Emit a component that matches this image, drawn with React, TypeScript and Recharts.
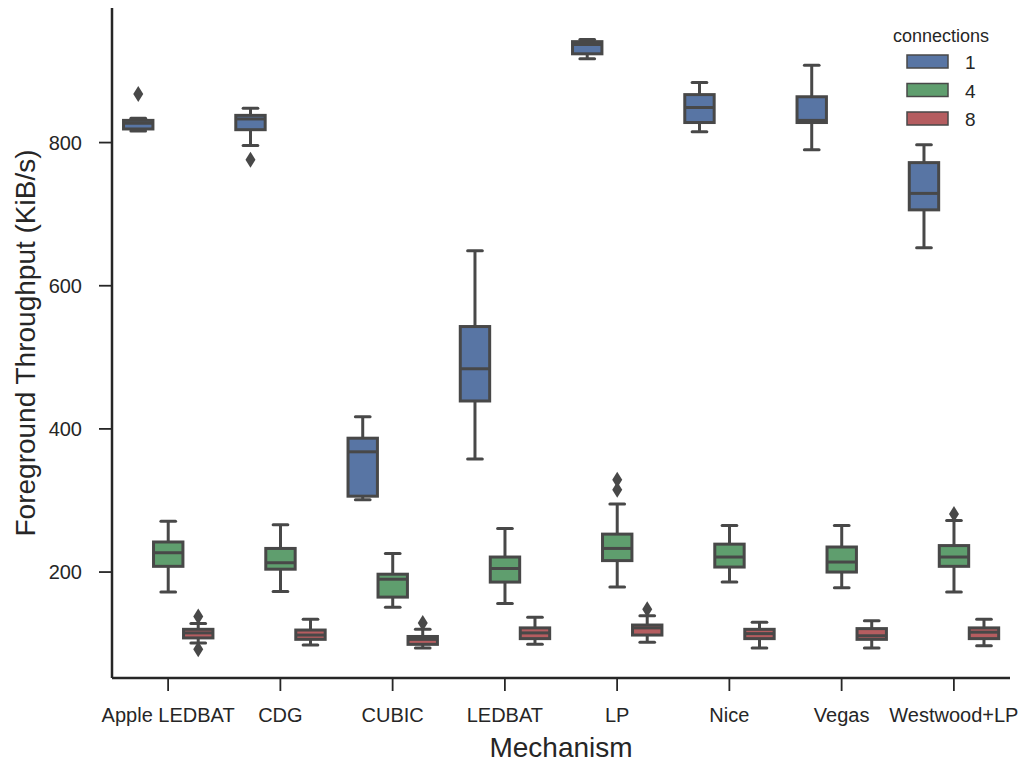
import React from "react";
import { ComposedChart, Bar, XAxis, YAxis, Legend } from "recharts";

const mechanisms = ["Apple LEDBAT", "CDG", "CUBIC", "LEDBAT", "LP", "Nice", "Vegas", "Westwood+LP"];
const connections = ["1", "4", "8"];
const yTicks = [200, 400, 600, 800];

// [low whisker, q1, median, q3, high whisker]
const stats1 = [
  [816, 819, 827, 831, 834],
  [796, 818, 833, 838, 848],
  [301, 306, 368, 387, 417],
  [358, 439, 484, 543, 649],
  [917, 924, 937, 941, 944],
  [815, 828, 849, 867, 884],
  [790, 828, 831, 864, 908],
  [653, 706, 729, 772, 797],
];
const stats4 = [
  [172, 208, 227, 242, 271],
  [173, 204, 213, 233, 266],
  [151, 165, 190, 197, 226],
  [156, 186, 205, 221, 261],
  [179, 216, 233, 253, 295],
  [186, 207, 221, 239, 265],
  [178, 200, 214, 235, 265],
  [172, 208, 221, 237, 272],
];
const stats8 = [
  [101, 108, 115, 120, 128],
  [98, 106, 112, 119, 134],
  [94, 99, 106, 110, 120],
  [99, 107, 115, 122, 137],
  [102, 112, 122, 126, 139],
  [94, 107, 114, 120, 130],
  [94, 106, 111, 121, 132],
  [97, 107, 116, 122, 134],
];

const outliers1 = [[868], [776], [], [], [], [], [], []];
const outliers4 = [[], [], [], [], [329, 315], [], [], [281]];
const outliers8 = [[138, 92], [], [129], [], [148], [], [], []];

const colors = ["#5875a4", "#5f9e6e", "#b55d60"];
const edge = "#484848";
const ink = "#262626";
const font = "'Liberation Sans', Arial, sans-serif";

const allStats = [stats1, stats4, stats8];
const allOutliers = [outliers1, outliers4, outliers8];

const data = mechanisms.map((m, i) => {
  const row: any = { mechanism: m };
  connections.forEach((c, h) => {
    const s = allStats[h][i];
    row[`c${c}`] = [s[0], s[4]];
    row[`s${c}`] = s;
    row[`o${c}`] = allOutliers[h][i];
  });
  return row;
});

function BoxGlyph(props: any) {
  const { x, y, width, height, stats, outliers, fill } = props;
  const [lo, q1, med, q3, hi] = stats;
  const top = Math.min(y, y + height);
  const h = Math.abs(height);
  const k = h / (hi - lo);
  const py = (v: number) => top + (hi - v) * k;
  const cx = x + width / 2;
  const bw = width * 0.98;
  const cw = bw / 4;
  return (
    <g>
      <line x1={cx} x2={cx} y1={py(q3)} y2={py(hi)} stroke={edge} strokeWidth={3} />
      <line x1={cx} x2={cx} y1={py(q1)} y2={py(lo)} stroke={edge} strokeWidth={3} />
      <line x1={cx - cw} x2={cx + cw} y1={py(hi)} y2={py(hi)} stroke={edge} strokeWidth={3} strokeLinecap="round" />
      <line x1={cx - cw} x2={cx + cw} y1={py(lo)} y2={py(lo)} stroke={edge} strokeWidth={3} strokeLinecap="round" />
      <rect x={cx - bw / 2} y={py(q3)} width={bw} height={py(q1) - py(q3)} fill={fill} stroke={edge} strokeWidth={3} />
      <line x1={cx - bw / 2} x2={cx + bw / 2} y1={py(med)} y2={py(med)} stroke={edge} strokeWidth={3} />
      {outliers.map((v: number, j: number) => {
        const oy = py(v);
        return (
          <path
            key={j}
            d={`M${cx},${oy - 8} L${cx + 5},${oy} L${cx},${oy + 8} L${cx - 5},${oy} Z`}
            fill={edge}
          />
        );
      })}
    </g>
  );
}

const makeShape = (c: string, fill: string) => (props: any) =>
  <BoxGlyph {...props} stats={props.payload[`s${c}`]} outliers={props.payload[`o${c}`]} fill={fill} />;

function LegendBox() {
  return (
    <svg width={125} height={120} style={{ fontFamily: font }}>
      <text x={56} y={22} textAnchor="middle" fontSize={18} fill={ink}>connections</text>
      {connections.map((c, i) => (
        <g key={c}>
          <rect x={22} y={35 + i * 28.5} width={41} height={13} fill={colors[i]} stroke={edge} strokeWidth={1.5} />
          <text x={80} y={49 + i * 28.5} fontSize={19} fill={ink}>{c}</text>
        </g>
      ))}
    </svg>
  );
}

export default function App() {
  return (
    <div style={{ position: "absolute", left: 0, top: 0, background: "#fff" }}>
      <ComposedChart
        width={1019}
        height={762}
        data={data}
        margin={{ top: 8, right: 9, bottom: 0, left: 0 }}
        barCategoryGap="10%"
        barGap={0}
        style={{ fontFamily: font }}
      >
        <XAxis
          dataKey="mechanism"
          interval={0}
          height={84}
          tickSize={13}
          tickMargin={17}
          axisLine={{ stroke: ink, strokeWidth: 2.5 }}
          tickLine={{ stroke: ink, strokeWidth: 1.8 }}
          tick={{ fontSize: 20, fill: ink, fontFamily: font }}
          label={{
            content: (p: any) => (
              <text
                x={p.viewBox.x + p.viewBox.width / 2}
                y={757}
                textAnchor="middle"
                fontSize={28}
                fill={ink}
                fontFamily={font}
              >
                Mechanism
              </text>
            ),
          }}
        />
        <YAxis
          type="number"
          domain={[52, 988]}
          allowDataOverflow
          ticks={yTicks}
          width={112}
          tickSize={13}
          tickMargin={17}
          axisLine={{ stroke: ink, strokeWidth: 2.5 }}
          tickLine={{ stroke: ink, strokeWidth: 1.8 }}
          tick={{ fontSize: 20, fill: ink, fontFamily: font }}
          label={{
            content: (p: any) => {
              const cy = p.viewBox.y + p.viewBox.height / 2;
              return (
                <text
                  x={35}
                  y={cy}
                  transform={`rotate(-90, 35, ${cy})`}
                  textAnchor="middle"
                  fontSize={28}
                  fill={ink}
                  fontFamily={font}
                >
                  Foreground Throughput (KiB/s)
                </text>
              );
            },
          }}
        />
        <Legend
          layout="vertical"
          align="center"
          verticalAlign="middle"
          wrapperStyle={{ left: 885, top: 20, width: 125, height: 120 }}
          content={() => <LegendBox />}
        />
        {connections.map((c, i) => (
          <Bar
            key={c}
            dataKey={`c${c}`}
            name={c}
            fill={colors[i]}
            isAnimationActive={false}
            shape={makeShape(c, colors[i])}
          />
        ))}
      </ComposedChart>
    </div>
  );
}
